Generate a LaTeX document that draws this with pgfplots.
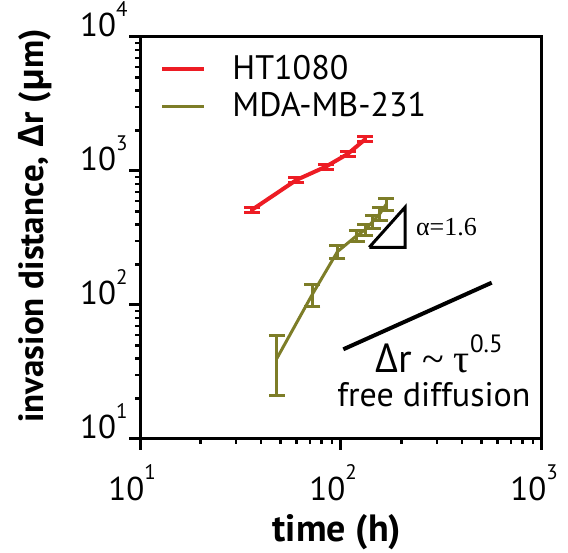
\documentclass[border=0pt]{standalone}
\usepackage{fontspec}
\setmainfont{PT Sans}
\newfontfamily\grk{Open Sans}
\newfontfamily\serif{Liberation Serif}
\usepackage{pgfplots}
\usepackage{pgfplotstable}
\pgfplotsset{compat=1.18}

\definecolor{htred}{RGB}{237,28,36}
\definecolor{mdaolive}{RGB}{125,125,40}

% 10 with a raised exponent, as in the figure
\newcommand{\tenp}[1]{10\raisebox{0.62em}{\fontsize{10.5}{10}\selectfont #1}}

\pgfplotstableread{
t    r     e
36   512   25
60   857   40
84   1077  45
108  1340  60
132  1726  75
}\htdata

\pgfplotstableread{
t    r     e
48   40    19
72   120   23
96   250   27
120  330   30
132  365   35
144  420   45
156  480   55
168  565   60
}\mdadata

\begin{document}
\begin{tikzpicture}
\begin{axis}[
    xmode=log, ymode=log,
    scale only axis,
    width=201pt, height=201pt,
    xmin=10, xmax=1000, ymin=10, ymax=10000,
    axis line style={line width=1.5pt},
    tick align=outside,
    xtick pos=bottom, ytick pos=left,
    major tick length=5.5pt, minor tick length=2.5pt,
    every major tick/.style={line width=1.5pt, black},
    every minor tick/.style={line width=1.2pt, black},
    xtick={10,100,1000}, xticklabels={\tenp{1},\tenp{2},\tenp{3}},
    ytick={10,100,1000,10000}, yticklabels={\tenp{1},\tenp{2},\tenp{3},\tenp{4}},
    tick label style={font=\fontsize{16.5}{16}\selectfont},
    yticklabel style={anchor=base east, inner sep=0pt, xshift=-0.5pt},
    xticklabel style={yshift=-4pt, xshift=-4pt},
    xlabel={\bfseries time (h)},
    ylabel={\bfseries invasion distance, {\grk\bfseries Δ}r ({\grk\bfseries μ}m)},
    xlabel style={font=\fontsize{19}{20}\selectfont, at={(axis description cs:0.49,-0.231)}, anchor=center},
    ylabel style={font=\fontsize{17.5}{19}\selectfont, at={(axis description cs:-0.262,0.53)}, anchor=center},
    legend style={draw=none, fill=none, at={(rel axis cs:0.035,0.975)}, anchor=north west,
        font=\fontsize{17}{18}\selectfont, row sep=1pt, column sep=11pt},
    legend cell align=left,
    legend image code/.code={\draw[#1] (0pt,0pt) -- (21pt,0pt);},
]
\addplot[htred, line width=2pt, mark=none,
    error bars/.cd, y dir=both, y explicit,
    error bar style={line width=1.5pt, htred},
    error mark options={rotate=90, mark size=4pt, line width=1.5pt, htred}]
    table[x=t, y=r, y error=e] {\htdata};
\addplot[mdaolive, line width=1.5pt, mark=none,
    error bars/.cd, y dir=both, y explicit,
    error bar style={line width=1.5pt, mdaolive},
    error mark options={rotate=90, mark size=4pt, line width=1.5pt, mdaolive}]
    table[x=t, y=r, y error=e] {\mdadata};
\legend{HT1080, MDA-MB-231}

% slope triangle and free-diffusion guide
\addplot[black, line width=1.5pt, line join=miter, forget plot]
    coordinates {(138.3,269.6) (208.2,269.6) (208.2,535.7) (138.3,269.6)};
\addplot[black, line width=2pt, forget plot]
    coordinates {(102.7,46.7) (562,146.7)};

\node[font=\serif\fontsize{13}{13}\selectfont, anchor=west] at (axis cs:218,382) {α=1.6};
\node[font=\fontsize{20}{20}\selectfont, anchor=base] at (axis cs:307,31.1)
    {{\grk Δ}r {\serif\symbol{"7E} τ}\raisebox{0.52em}{\fontsize{12.5}{12}\selectfont 0.5}};
\node[font=\fontsize{17}{17}\selectfont, anchor=base] at (axis cs:290,17.4) {free diffusion};
\end{axis}
\pgfresetboundingbox
\path ([shift={(-70pt,-57pt)}]current axis.south west) rectangle ([shift={(13pt,18.5pt)}]current axis.north east);
\end{tikzpicture}
\end{document}
